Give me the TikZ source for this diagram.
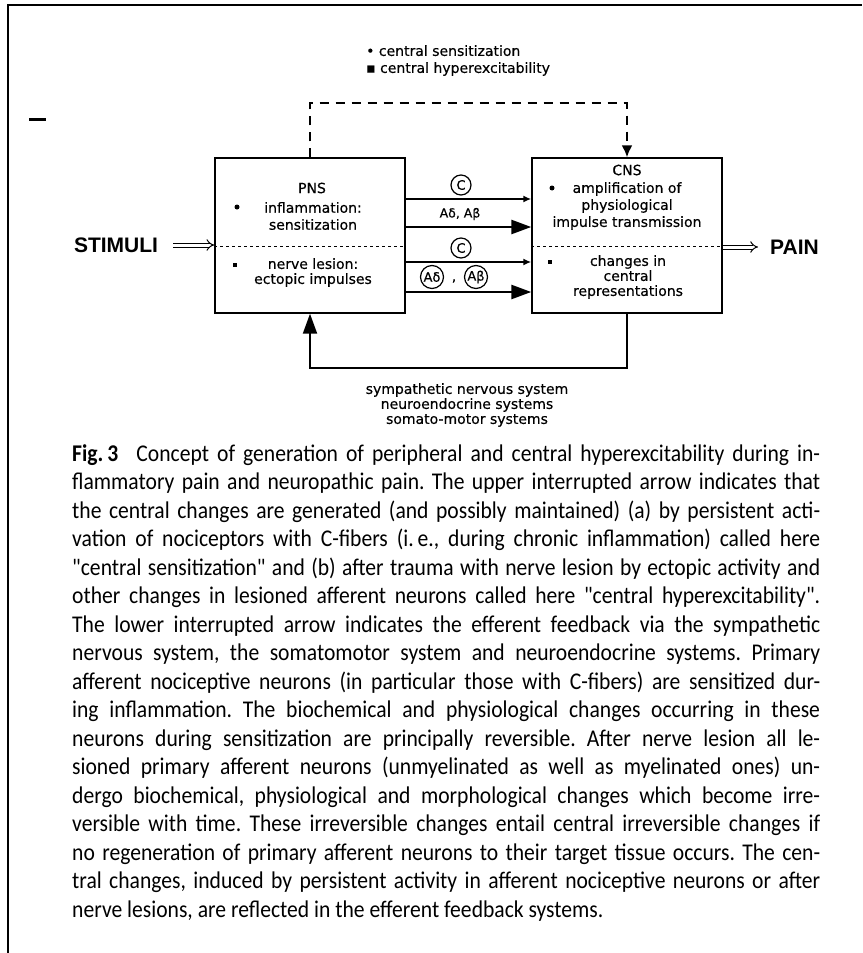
\documentclass[tikz,border=0pt]{standalone}
\usepackage{fontspec}
\setmainfont{DejaVu Sans}
\newfontfamily\diafont[FakeBold=0.4]{DejaVu Sans}
\newfontfamily\bigfont{Liberation Sans}
\newfontfamily\capfont[FakeStretch=0.9]{Carlito}
\usetikzlibrary{arrows.meta}
\newcommand{\jl}[1]{\makebox[748pt][s]{#1}}
\begin{document}
\begin{tikzpicture}[x=1pt,y=-1pt,
  box/.style={draw, line width=1.4pt, inner sep=0pt},
  dtxt/.style={font=\diafont\fontsize{14}{17}\selectfont, inner sep=0pt, align=center},
  stxt/.style={font=\diafont\fontsize{14}{15}\selectfont, inner sep=0pt, align=center},
  bigtxt/.style={font=\bigfont\bfseries\fontsize{21}{21}\selectfont, inner sep=0pt},
  thinarrow/.style={line width=1.6pt, -{Latex[length=8pt,width=7pt]}},
  thickarrow/.style={line width=2.6pt, -{Triangle[length=20pt,width=14pt]}},
  divider/.style={line width=0.9pt, dash pattern=on 3pt off 3pt},
  dasharrow/.style={line width=2pt, dash pattern=on 9pt off 7pt, -{Latex[length=12pt,width=11pt]}},
  dblarrow/.style={double, double distance=3pt, line width=1pt, -{Implies}},
  circ/.style={draw, circle, line width=1.2pt, inner sep=0pt, minimum size=20pt, font=\diafont\fontsize{13}{13}\selectfont},
  rbullet/.style={circle, fill, inner sep=0pt, minimum size=5pt},
  sbullet/.style={rectangle, fill, inner sep=0pt, minimum size=4.5pt}
]
\useasboundingbox (0,0) rectangle (862,953);
% page frame
\draw[line width=1.5pt] (8,953) -- (8,5) -- (862,5);
\draw[line width=3pt] (29,119) -- (46,119);

% boxes
\node[box, minimum width=190pt, minimum height=155pt] (pns) at (310,235.5) {};
\node[box, minimum width=190pt, minimum height=155pt] (cns) at (627,235.5) {};

% dividers
\coordinate (dv) at (0,246);
\draw[divider] (pns.west |- dv) -- (pns.east |- dv);
\draw[divider] (cns.west |- dv) -- (cns.east |- dv);

% PNS texts
\node[dtxt] (pnst) at (312,188) {PNS};
\node[rbullet] (pb1) at (237,207) {};
\node[dtxt] (pns1) at (313,216) {inflammation:\\sensitization};
\node[sbullet] (pb2) at (235,265) {};
\node[stxt] (pns2) at (313,272.5) {nerve lesion:\\ectopic impulses};

% CNS texts
\node[dtxt] (cnst) at (627,170) {CNS};
\node[rbullet] (cb1) at (552,188) {};
\node[dtxt] (cns1) at (627,206) {amplification of\\physiological\\impulse transmission};
\node[sbullet] (cb2) at (550,262) {};
\node[stxt] (cns2) at (628,277) {changes in\\central\\representations};

% STIMULI / PAIN
\node[bigtxt] (stim) at (116,245) {STIMULI};
\node[bigtxt, anchor=west] (pain) at (770,247) {PAIN};
\draw[dblarrow, shorten <=15pt] (stim.east) -- (stim.east -| pns.west);
\draw[dblarrow, shorten >=12pt] (cns.east |- pain.west) -- (pain.west);

% fibre arrows
\coordinate (r1) at (0,199);
\coordinate (r2) at (0,227);
\coordinate (r3) at (0,262);
\coordinate (r4) at (0,292);
\draw[thinarrow] (pns.east |- r1) -- (cns.west |- r1);
\draw[thickarrow] (pns.east |- r2) -- (cns.west |- r2);
\draw[thinarrow] (pns.east |- r3) -- (cns.west |- r3);
\draw[thickarrow] (pns.east |- r4) -- (cns.west |- r4);
\node[circ] (c1) at (461,185) {C};
\node[dtxt, font=\diafont\fontsize{12.5}{12.5}\selectfont] (aa1) at (460,214) {Aδ, Aβ};
\node[circ] (c2) at (461,248) {C};
\node[circ, minimum size=23pt] (ad) at (432,277) {Aδ};
\node[dtxt] (comma) at (454,281) {,};
\node[circ, minimum size=23pt] (ab) at (476,277) {Aβ};

% upper interrupted arrow
\coordinate (dt) at (0,103);
\draw[dasharrow] (pns.north) -- (pns.north |- dt) -- (cns.north |- dt) -- (cns.north);
\node[dtxt, align=left, anchor=west] (toptxt) at (366,60.5) {• central sensitization\\▪ central hyperexcitability};

% feedback arrow
\coordinate (fb) at (0,368);
\draw[thickarrow, line width=2pt] (cns.south) -- (cns.south |- fb) -- (pns.south |- fb) -- (pns.south);
\node[stxt] (fbtxt) at (467,405) {sympathetic nervous system\\neuroendocrine systems\\somato-motor systems};

% caption
\node[anchor=north west, inner sep=0pt, align=left, font=\capfont\fontsize{24}{28.5}\selectfont\frenchspacing] (cap) at (72,444) {%
\jl{\textbf{Fig.\,3}\hspace{10pt} Concept of generation of peripheral and central hyperexcitability during in-}\\
\jl{flammatory pain and neuropathic pain. The upper interrupted arrow indicates that}\\
\jl{the central changes are generated (and possibly maintained) (a) by persistent acti-}\\
\jl{vation of nociceptors with C-fibers (i.\,e., during chronic inflammation) called here}\\
\jl{"central sensitization" and (b) after trauma with nerve lesion by ectopic activity and}\\
\jl{other changes in lesioned afferent neurons called here "central hyperexcitability".}\\
\jl{The lower interrupted arrow indicates the efferent feedback via the sympathetic}\\
\jl{nervous system, the somatomotor system and neuroendocrine systems. Primary}\\
\jl{afferent nociceptive neurons (in particular those with C-fibers) are sensitized dur-}\\
\jl{ing inflammation. The biochemical and physiological changes occurring in these}\\
\jl{neurons during sensitization are principally reversible. After nerve lesion all le-}\\
\jl{sioned primary afferent neurons (unmyelinated as well as myelinated ones) un-}\\
\jl{dergo biochemical, physiological and morphological changes which become irre-}\\
\jl{versible with time. These irreversible changes entail central irreversible changes if}\\
\jl{no regeneration of primary afferent neurons to their target tissue occurs. The cen-}\\
\jl{tral changes, induced by persistent activity in afferent nociceptive neurons or after}\\
nerve lesions, are reflected in the efferent feedback systems.};
\end{tikzpicture}
\end{document}
